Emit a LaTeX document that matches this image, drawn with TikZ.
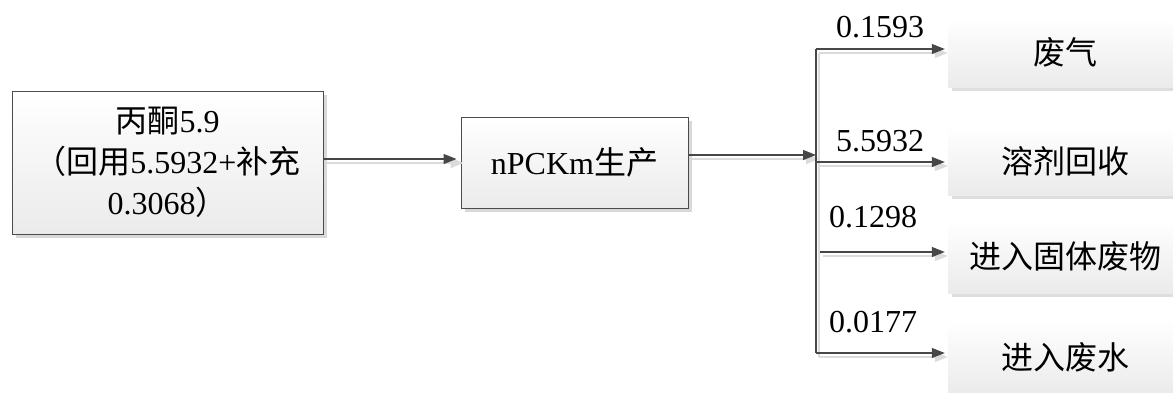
\documentclass[tikz,border=0pt]{standalone}
\usepackage{fontspec}
\setmainfont{Liberation Serif}
\newfontfamily\cjk{Noto Sans CJK SC}
\usetikzlibrary{arrows.meta,shadows}

\begin{document}
\begin{tikzpicture}[x=1pt,y=-1pt,
  font=\fontsize{32}{41}\selectfont,
  line/.style={draw=black!72, line width=1.1pt},
  tip/.style={-{Triangle[length=13pt,width=10pt]}},
  arr/.style={line, tip},
  ghost/.style={draw=black!14, line width=1.4pt},
  procbox/.style={draw=black!70, line width=1pt, top color=white, bottom color=black!8,
    general shadow={fill=black!15, shadow xshift=4pt, shadow yshift=-4pt},
    align=center, inner sep=0pt},
  outbox/.style={top color=white, bottom color=black!8,
    general shadow={fill=black!13, shadow xshift=4pt, shadow yshift=-4pt},
    inner sep=0pt, minimum width=234pt},
  val/.style={inner sep=0pt}
]
\useasboundingbox (0,0) rectangle (1173,392);
\clip (0,0) rectangle (1173,392);
\fill[white] (0,0) rectangle (1173,392);

% process boxes
\node[procbox, minimum width=311pt, minimum height=143pt] (L) at (167.5,162.5)
  {{\cjk 丙酮}5.9\\{\cjk （回用}5.5932+{\cjk 补充}\\0.3068{\cjk ）}};
\node[procbox, minimum width=227pt, minimum height=91pt] (M) at (574.5,162.5)
  {nPCKm{\cjk 生产}};

% output boxes
\node[outbox, minimum height=69pt] (R1) at (1065,52.5) {\cjk 废气};
\node[outbox, minimum height=68pt] (R2) at (1065,161) {\cjk 溶剂回收};
\node[outbox, minimum height=73pt] (R3) at (1065,256.5) {\cjk 进入固体废物};
\node[outbox, minimum height=74pt] (R4) at (1065,357) {\cjk 进入废水};

% branch points
\coordinate (J) at (816,155);
\coordinate (b1) at (816,49);
\coordinate (b2) at (816,162);
\coordinate (b3) at (820,252);
\coordinate (b4) at (816,353);

% soft shadows under the connectors
\begin{scope}[transform canvas={xshift=3pt,yshift=-4pt}]
  \draw[ghost, tip] ([yshift=3.5pt]L.east) -- ([yshift=3.5pt]M.west);
  \draw[ghost, tip] ([yshift=7.5pt]M.east) -- (J);
  \draw[ghost] (b1) -- (b4);
  \draw[ghost, tip, shorten >=3pt] (b1) -- (b1 -| R1.west);
  \draw[ghost, tip, shorten >=3pt] (b2) -- (b2 -| R2.west);
  \draw[ghost, tip, shorten >=3pt] (b3) -- (b3 -| R3.west);
  \draw[ghost, tip, shorten >=3pt] (b4) -- (b4 -| R4.west);
\end{scope}

% connectors
\draw[arr, shorten >=4pt] ([yshift=3.5pt]L.east) -- ([yshift=3.5pt]M.west);
\draw[arr] ([yshift=7.5pt]M.east) -- (J);
\draw[line] (b1) -- (b4);
\draw[arr, shorten >=3pt] (b1) -- (b1 -| R1.west);
\draw[arr, shorten >=3pt] (b2) -- (b2 -| R2.west);
\draw[arr, shorten >=3pt] (b3) -- (b3 -| R3.west);
\draw[arr, shorten >=3pt] (b4) -- (b4 -| R4.west);

% flow values
\node[val] (v1) at (880,27) {0.1593};
\node[val] (v2) at (880,141) {5.5932};
\node[val] (v3) at (873,217) {0.1298};
\node[val] (v4) at (873,322) {0.0177};
\end{tikzpicture}
\end{document}
